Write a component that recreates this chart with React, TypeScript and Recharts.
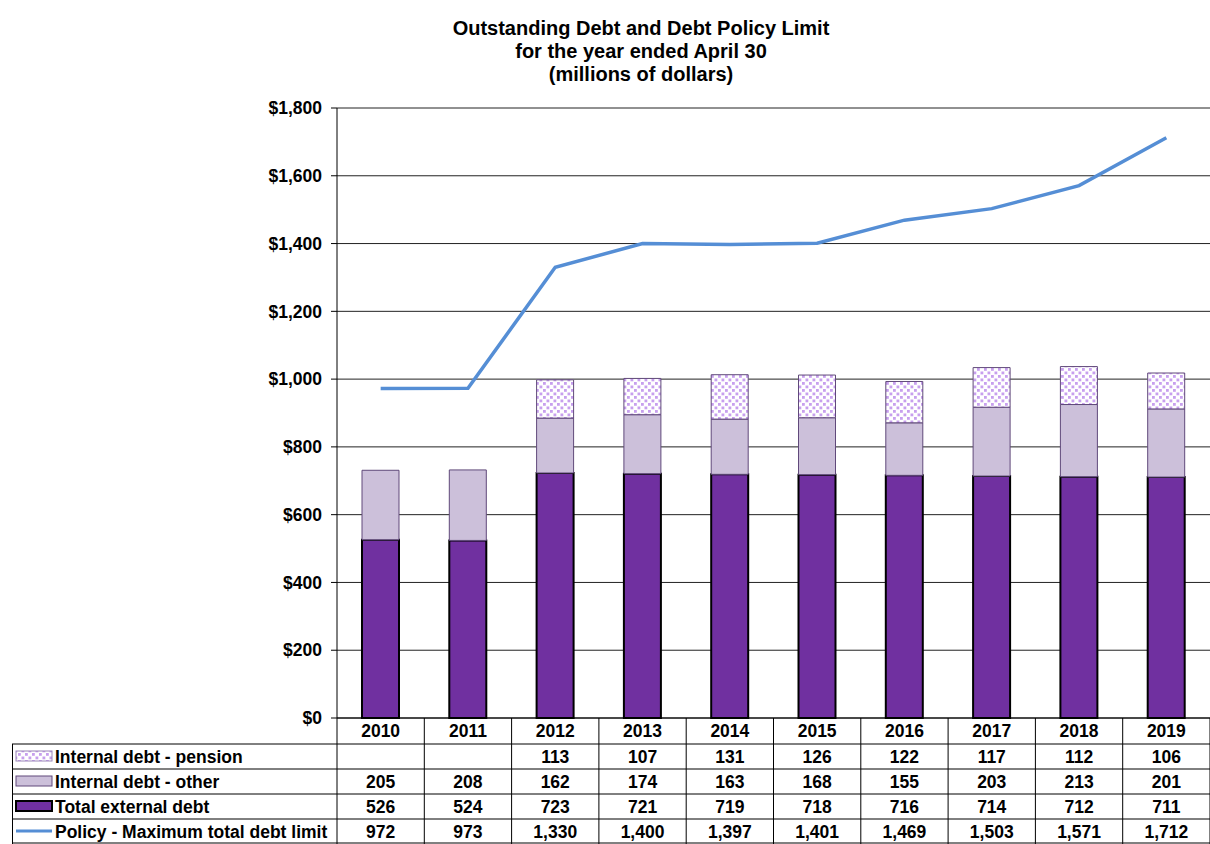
import React from 'react';
import {
  ComposedChart,
  CartesianGrid,
  XAxis,
  YAxis,
  Bar,
  Line,
} from 'recharts';

const years = ['2010', '2011', '2012', '2013', '2014', '2015', '2016', '2017', '2018', '2019'];
const pension: (number | null)[] = [null, null, 113, 107, 131, 126, 122, 117, 112, 106];
const internalOther = [205, 208, 162, 174, 163, 168, 155, 203, 213, 201];
const externalDebt = [526, 524, 723, 721, 719, 718, 716, 714, 712, 711];
const policyLimit = [972, 973, 1330, 1400, 1397, 1401, 1469, 1503, 1571, 1712];
const yTicks = [0, 200, 400, 600, 800, 1000, 1200, 1400, 1600, 1800];

const rowLabels = [
  'Internal debt - pension',
  'Internal debt - other',
  'Total external debt',
  'Policy - Maximum total debt limit',
];

const data = years.map((year, i) => ({
  year,
  pension: pension[i],
  other: internalOther[i],
  external: externalDebt[i],
  policy: policyLimit[i],
}));

const FONT = '"Liberation Sans", Arial, sans-serif';
const W = 1210;
const H = 844;
const PLOT_LEFT = 337;
const PLOT_TOP = 108;
const PLOT_BOTTOM = 718;
const COL_W = (W - PLOT_LEFT) / years.length;
const ROW_Y = [718, 744, 769, 794, 819, 843];
const DOT = '#C79FEE';

const fmt = (v: number | null) => (v == null ? '' : v.toLocaleString('en-US'));

const TableColumn = (props: any) => {
  const { x, index } = props;
  const i = index as number;
  const values = [pension[i], internalOther[i], externalDebt[i], policyLimit[i]];
  const right = x + COL_W / 2;
  return (
    <g>
      <text x={x} y={737} textAnchor="middle" fontFamily={FONT} fontWeight="bold" fontSize={17.5} fill="#000">
        {years[i]}
      </text>
      {values.map((v, r) => (
        <text
          key={r}
          x={x}
          y={ROW_Y[r + 1] + 19}
          textAnchor="middle"
          fontFamily={FONT}
          fontWeight="bold"
          fontSize={17.5}
          fill="#000"
        >
          {fmt(v)}
        </text>
      ))}
      {ROW_Y.slice(1).map((yy) => (
        <line key={yy} x1={x - COL_W / 2} x2={right} y1={yy} y2={yy} stroke="#000" strokeWidth={1} />
      ))}
      <line x1={right} x2={right} y1={PLOT_BOTTOM} y2={H} stroke="#000" strokeWidth={1} />
    </g>
  );
};

const DotPattern = ({ id }: { id: string }) => (
  <pattern id={id} width="7" height="7" patternUnits="userSpaceOnUse">
    <rect width="7" height="7" fill="#fff" />
    <rect x="0.5" y="0.5" width="2.8" height="2.8" fill={DOT} />
    <rect x="4" y="4" width="2.8" height="2.8" fill={DOT} />
  </pattern>
);

const LegendColumn = () => (
  <svg width={PLOT_LEFT + 1} height={H} style={{ position: 'absolute', left: 0, top: 0, pointerEvents: 'none' }}>
    <defs>
      <DotPattern id="dotsLegend" />
    </defs>
    {ROW_Y.slice(1).map((yy) => (
      <line key={yy} x1={12} x2={PLOT_LEFT} y1={yy} y2={yy} stroke="#000" strokeWidth={1} />
    ))}
    <line x1={12.5} x2={12.5} y1={ROW_Y[1]} y2={H} stroke="#000" strokeWidth={1} />
    <line x1={PLOT_LEFT} x2={PLOT_LEFT} y1={PLOT_BOTTOM} y2={H} stroke="#000" strokeWidth={1} />
    <rect x={16} y={751} width={36} height={10} fill="url(#dotsLegend)" stroke="#9A86B8" strokeWidth={1} />
    <rect x={16} y={776} width={36} height={10} fill="#CCC0DA" stroke="#60497A" strokeWidth={1} />
    <rect x={16} y={801} width={36} height={10} fill="#7030A0" stroke="#000" strokeWidth={2} />
    <line x1={16} x2={52} y1={831} y2={831} stroke="#558ED5" strokeWidth={3} />
    {rowLabels.map((label, r) => (
      <text
        key={label}
        x={55}
        y={ROW_Y[r + 1] + 19}
        fontFamily={FONT}
        fontWeight="bold"
        fontSize={17.5}
        fill="#000"
      >
        {label}
      </text>
    ))}
  </svg>
);

export default function App() {
  return (
    <div style={{ position: 'absolute', left: 0, top: 0, width: W, height: H, background: '#fff', fontFamily: FONT }}>
      <div
        style={{
          position: 'absolute',
          left: 0,
          top: 17,
          width: 1282,
          textAlign: 'center',
          fontWeight: 'bold',
          fontSize: 20,
          lineHeight: '23px',
          color: '#000',
        }}
      >
        Outstanding Debt and Debt Policy Limit
        <br />
        for the year ended April 30
        <br />
        (millions of dollars)
      </div>
      <ComposedChart
        width={W}
        height={H}
        data={data}
        margin={{ top: PLOT_TOP, right: 0, left: PLOT_LEFT - 80, bottom: 0 }}
        barSize={37}
        style={{ position: 'absolute', left: 0, top: 0 }}
      >
        <defs>
          <DotPattern id="dotsFill" />
        </defs>
        <CartesianGrid vertical={false} stroke="#222" strokeWidth={1} />
        <XAxis
          dataKey="year"
          height={H - PLOT_BOTTOM}
          axisLine={{ stroke: '#000' }}
          tickLine={false}
          interval={0}
          tick={(p: any) => <TableColumn {...p} />}
        />
        <YAxis
          width={80}
          domain={[0, 1800]}
          ticks={yTicks}
          axisLine={{ stroke: '#000' }}
          tickLine={{ stroke: '#000' }}
          tickSize={6}
          tickMargin={9}
          tickFormatter={(v: number) => `$${v.toLocaleString('en-US')}`}
          tick={{ fill: '#000', fontSize: 17.5, fontWeight: 'bold', fontFamily: FONT }}
        />
        <Bar dataKey="external" stackId="debt" fill="#7030A0" stroke="#000" strokeWidth={2} isAnimationActive={false} />
        <Bar dataKey="other" stackId="debt" fill="#CCC0DA" stroke="#60497A" strokeWidth={1} isAnimationActive={false} />
        <Bar dataKey="pension" stackId="debt" fill="url(#dotsFill)" stroke="#60497A" strokeWidth={1} isAnimationActive={false} />
        <Line
          dataKey="policy"
          type="linear"
          stroke="#558ED5"
          strokeWidth={3.5}
          dot={false}
          activeDot={false}
          isAnimationActive={false}
        />
      </ComposedChart>
      <LegendColumn />
    </div>
  );
}
